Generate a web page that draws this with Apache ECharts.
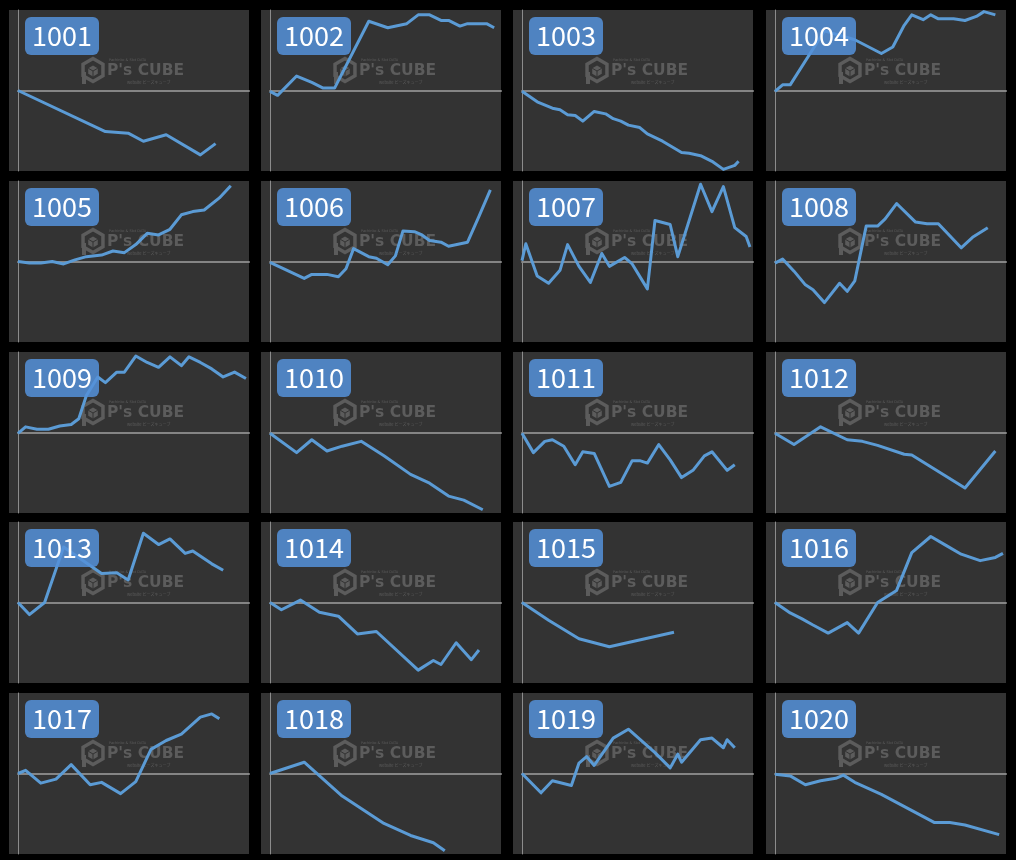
<!DOCTYPE html>
<html>
<head>
<meta charset="utf-8">
<title>P's CUBE</title>
<script src="https://cdn.jsdelivr.net/npm/echarts@6.0.0/dist/echarts.min.js"></script>
<style>
html,body{margin:0;padding:0;background:#000;}
#main{width:1016px;height:860px;}
</style>
</head>
<body>
<div id="main"></div>
<script>
// 台番号
var names=['1001','1002','1003','1004','1005','1006','1007','1008','1009','1010',
'1011','1012','1013','1014','1015','1016','1017','1018','1019','1020'];

// [日, 差枚(目盛 -100..100)]
var d1001=[[0,0],[11.5,-51],[14.5,-53],[16.5,-63],[19.5,-55],[24,-80],[26,-66]];
var d1002=[[0,-1],[1,-6],[3.5,18],[5.5,10],[7,3],[8.5,3],[13,86],[15.5,78],[18,83],[19.5,94],[21,94],[22.5,87],[23.5,87],[25,80],[26,83],[28.5,83],[29.5,78]];
var d1003=[[0,-1],[2,-14],[4,-22],[5,-24],[6,-30],[7,-31],[8,-38],[9.5,-26],[11,-29],[12,-35],[13,-38],[14,-43],[15.5,-46],[16.5,-54],[18.5,-63],[21,-77],[22,-78],[23.5,-81],[25,-88],[26.5,-98],[28,-93],[28.5,-88]];
var d1004=[[0,-1],[1,7],[2,7],[6.5,74],[10.5,63],[14,46],[15.5,54],[17,81],[18,94],[19.5,88],[20.5,94],[21.5,89],[23.5,89],[25,87],[26.5,92],[27.5,98],[29,94]];
var d1005=[[0,0],[1.5,-2],[3,-2],[4.5,0],[6,-3],[7.5,2],[9,6],[11,8],[12.5,13],[14,11],[15.5,21],[17,35],[18.5,33],[20,40],[21.5,58],[23,62],[24.5,64],[26.5,79],[28,94]];
var d1006=[[0,-1],[4.5,-21],[5.5,-16],[7.5,-16],[9,-19],[10,-9],[11,16],[13,6],[14,4],[15.5,-4],[16.5,7],[17.5,38],[19,37],[20,33],[21,26],[22.5,24],[23.5,19],[26,24],[27.5,56],[29,89]];
var d1007=[[0,1],[0.5,22],[2,-18],[3.5,-27],[5,-11],[6,21],[7.5,-6],[9,-26],[10.5,10],[11.5,-6],[13.5,5],[14.5,-3],[16.5,-34],[17.5,51],[19.5,46],[20.5,6],[23.5,96],[25,62],[26.5,93],[28,42],[29.5,31],[30,18]];
var d1008=[[0,-2],[1,3],[2.5,-12],[4,-29],[5,-35],[6.5,-51],[8.5,-27],[9.5,-37],[10.5,-24],[12,44],[13.5,44],[14.5,53],[16,72],[18.5,49],[20,47],[21.5,47],[24.5,17],[26,30],[28,42]];
var d1009=[[0,-1],[1,7],[2.5,4],[4,4],[5.5,8],[7,10],[8,17],[9,46],[10.5,69],[11.5,62],[13,75],[14,75],[15.5,95],[17,87],[18.5,81],[20,94],[21.5,83],[22.5,94],[24,87],[25.5,79],[27,69],[28.5,75],[30,67]];
var d1010=[[0,-1],[3.5,-25],[5.5,-9],[7.5,-23],[9.5,-17],[12,-11],[15,-29],[18.5,-52],[21,-63],[23.5,-79],[25.5,-84],[28,-96]];
var d1011=[[0,-1],[1.5,-25],[3,-11],[4,-9],[5.5,-17],[7,-40],[8,-24],[9.5,-26],[11.5,-67],[13,-62],[14.5,-35],[15.5,-35],[16.5,-38],[18,-15],[19.5,-34],[21,-56],[22.5,-47],[24,-29],[25,-24],[27,-47],[28,-40]];
var d1012=[[0,-1],[2.5,-15],[6,7],[9.5,-9],[11.5,-11],[13.5,-16],[17,-27],[18,-28],[25,-69],[29,-23]];
var d1013=[[0,0],[1.5,-15],[3.5,0],[6,69],[11,36],[13,37],[14.5,28],[16.5,86],[18.5,72],[20,79],[22,61],[23,64],[25.5,48],[27,40]];
var d1014=[[0,0],[1.5,-9],[4,3],[6.5,-12],[9,-17],[11.5,-39],[14,-36],[19.5,-84],[21.5,-72],[22.5,-77],[24.5,-50],[26.5,-71],[27.5,-59]];
var d1015=[[0,0],[3.5,-22],[7.5,-45],[11.5,-55],[20,-37]];
var d1016=[[0,0],[2,-13],[3.5,-20],[5,-28],[7,-38],[9.5,-25],[11,-38],[13.5,0],[16,15],[18,62],[20.5,82],[22.5,71],[24.5,60],[27,52],[29,56],[30,61]];
var d1017=[[0,0],[1,4],[3,-12],[5,-7],[7,11],[9.5,-14],[11,-11],[13.5,-25],[15.5,-10],[17.5,30],[19.5,41],[21.5,49],[24,70],[25.5,74],[26.5,68]];
var d1018=[[0,0],[4.5,14],[9.5,-28],[15,-62],[18.5,-77],[21.5,-86],[23,-96]];
var d1019=[[0,0],[2.5,-24],[4,-9],[6.5,-15],[7.5,13],[8.5,21],[9.5,10],[12,44],[14,55],[17.5,26],[19.5,7],[20.5,24],[21,14],[23.5,42],[25,44],[26.5,32],[27,42],[28,32]];
var d1020=[[0,-1],[2,-3],[4,-14],[6,-9],[8,-6],[9,-2],[10.5,-11],[14,-26],[21,-61],[23,-61],[25,-64],[29.5,-76]];

var allData=[d1001,d1002,d1003,d1004,d1005,d1006,d1007,d1008,d1009,d1010,
d1011,d1012,d1013,d1014,d1015,d1016,d1017,d1018,d1019,d1020];

// panel layout
var colLeft=[9,261,513,766];
var rowTop=[10,181,352,522,693];
var panelW=240, panelH=161;
var wmColor='#5c5c5c';

function hexPoints(cx,cy,r){
 var pts=[];
 for(var k=0;k<6;k++){
  var a=Math.PI/180*(60*k-90);
  pts.push([cx+r*Math.cos(a),cy+r*Math.sin(a)]);
 }
 return pts;
}

function watermark(px,py){
 var cx=px+84, cy=py+60;
 var inner=hexPoints(cx,cy+1,5.5);
 return [
  {type:'polygon',z:1,silent:true,shape:{points:hexPoints(cx,cy,11.5)},style:{fill:'none',stroke:wmColor,lineWidth:3.5}},
  {type:'rect',z:1,silent:true,shape:{x:cx-11,y:cy+2,width:4,height:12},style:{fill:wmColor}},
  {type:'polygon',z:1,silent:true,shape:{points:inner},style:{fill:wmColor}},
  {type:'polyline',z:1,silent:true,shape:{points:[inner[5],[cx,cy+1],inner[1]]},style:{stroke:'#333',lineWidth:1,fill:'none'}},
  {type:'line',z:1,silent:true,shape:{x1:cx,y1:cy+1,x2:inner[3][0],y2:inner[3][1]},style:{stroke:'#333',lineWidth:1}},
  {type:'text',z:1,silent:true,x:px+98,y:py+61,style:{text:"P's CUBE",fill:wmColor,font:'bold 15.5px "DejaVu Sans"',textAlign:'left',textVerticalAlign:'middle'}},
  {type:'text',z:1,silent:true,x:px+100,y:py+50,style:{text:'Pachinko & Slot DATA',fill:wmColor,font:'3.5px "DejaVu Sans"',textAlign:'left',textVerticalAlign:'middle'}},
  {type:'text',z:1,silent:true,x:px+118,y:py+72,style:{text:'website ピーズキューブ',fill:wmColor,font:'4px "Noto Sans CJK JP"',textAlign:'left',textVerticalAlign:'middle'}}
 ];
}

var grids=[],xAxes=[],yAxes=[],series=[],graphics=[];
for(var i=0;i<names.length;i++){
 var px=colLeft[i%4];
 var py=rowTop[Math.floor(i/4)];
 graphics.push({type:'rect',z:-10,silent:true,shape:{x:px,y:py,width:panelW,height:panelH},style:{fill:'#333333'}});
 // 台番号ラベルは線の上に少し透けて乗る
 graphics.push({type:'rect',z:5,silent:true,shape:{x:px+16,y:py+7,width:74,height:38,r:6},style:{fill:'#5490d8',opacity:0.86}});
 graphics.push({type:'text',z:6,silent:true,x:px+53,y:py+26,style:{text:names[i],fill:'#ffffff',font:'27px "Noto Sans CJK JP"',textAlign:'center',textVerticalAlign:'middle'}});
 graphics=graphics.concat(watermark(px,py));

 grids.push({left:px+9,top:py,width:231,height:panelH,containLabel:false});
 xAxes.push({
  type:'value',gridIndex:i,min:0,max:30.4,
  axisLine:{show:true,onZero:true,lineStyle:{color:'#858585',width:2}},
  axisTick:{show:false},axisLabel:{show:false},splitLine:{show:false}
 });
 yAxes.push({
  type:'value',gridIndex:i,min:-100,max:100,
  axisLine:{show:true,lineStyle:{color:'#8c8c8c',width:1}},
  axisTick:{show:false},axisLabel:{show:false},splitLine:{show:false}
 });
 series.push({
  name:names[i],type:'line',xAxisIndex:i,yAxisIndex:i,
  data:allData[i],showSymbol:false,symbol:'none',
  lineStyle:{color:'#5b9bd5',width:3,join:'round'},
  itemStyle:{color:'#5b9bd5'},
  z:3
 });
}

var chart=echarts.init(document.getElementById('main'));
chart.setOption({
 backgroundColor:'#000000',
 animation:false,
 grid:grids,
 xAxis:xAxes,
 yAxis:yAxes,
 graphic:{elements:graphics},
 series:series
});
</script>
</body>
</html>
